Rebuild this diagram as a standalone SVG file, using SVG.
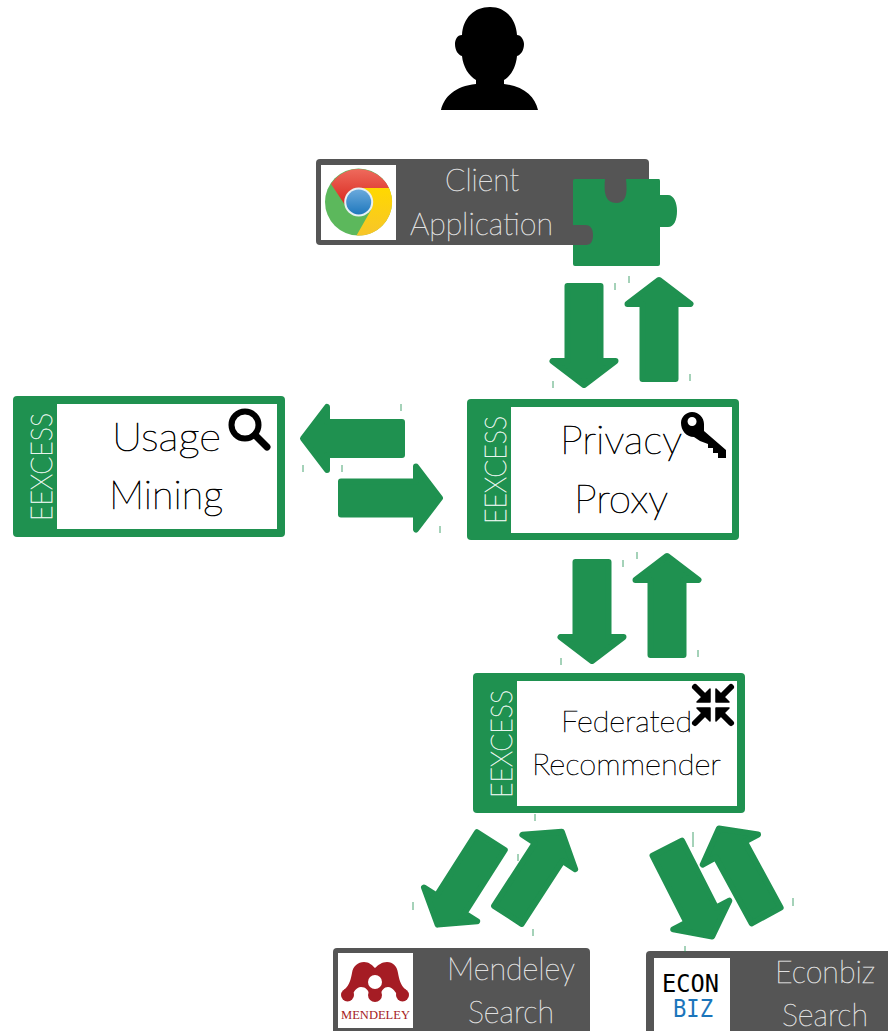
<svg xmlns="http://www.w3.org/2000/svg" width="888" height="1031" viewBox="0 0 888 1031">
<style>
text{font-family:"Lato","Liberation Sans",sans-serif;font-weight:100}
.g{fill:#1f9150}
.dark{fill:#555555}
.w{fill:#ffffff}
.t1{font-size:40px;fill:#000000;stroke:#000000;stroke-width:.7px}
.t2{font-size:30px;fill:#000000;stroke:#000000;stroke-width:.55px}
.t3{font-size:31px;fill:#e0e0e0;stroke:#e0e0e0;stroke-width:.5px}
.ee{font-size:29px;fill:#e8f5ee;stroke:#e8f5ee;stroke-width:.6px}
.arrow{fill:#1f9150;stroke:#1f9150;stroke-width:6;stroke-linejoin:round}
.tick{stroke:#1f9150;stroke-width:1;opacity:.8}
.k{fill:#000000}
.cl{stroke:#000000;stroke-width:6;stroke-linecap:round}
.ch{fill:#000000;stroke:#000000;stroke-width:1.500;stroke-linejoin:round}
.mr{fill:#a51c24}
</style>
<defs>
<path id="arrow" class="arrow" d="M0,4 L31.500,28 L16.500,28 L16.500,103 L-16.500,103 L-16.500,28 L-31.500,28 Z"/>
<linearGradient id="red" x1="0" y1="0" x2="0" y2="1"><stop offset="0" stop-color="#ee6a5c"/><stop offset="1" stop-color="#d9281f"/></linearGradient>
<linearGradient id="blue" x1="0" y1="0" x2="0" y2="1"><stop offset="0" stop-color="#6aa9dc"/><stop offset="1" stop-color="#1f78bd"/></linearGradient>
<linearGradient id="yel" x1="0" y1="0" x2="0" y2="1"><stop offset="0" stop-color="#ffd800"/><stop offset="1" stop-color="#f7c52a"/></linearGradient>
</defs>
<rect width="888" height="1031" fill="#ffffff"/>

<g id="user">
<path class="k" d="M490,7 C474,7 463,18 462,35 C457,35 455,40 455,44 C455,50 458,55 462,56 C463,67 469,76 476,80 L476,84 C455,86 444,97 441,110 L538,110 C535,97 524,86 504,84 L504,80 C511,76 516,67 517,56 C521,55 524,50 524,44 C524,40 521,35 517,35 C516,18 505,7 490,7 Z"/>
</g>

<g id="client-application">
<rect class="dark" x="316" y="159" width="333" height="86" rx="4"/>
<rect class="w" x="321" y="165" width="75" height="75"/>
<circle cx="358.500" cy="202" r="33.500" fill="#5cb85c"/>
<path d="M331,184 A33.500,33.500 0 0 1 389,188 L358.700,188 L345,205 Z" fill="url(#red)"/>
<path d="M389,188 A33.500,33.500 0 0 1 356.500,235.500 L371,210 L358.700,188 Z" fill="url(#yel)"/>
<circle cx="358.700" cy="202" r="14.500" fill="#e8f0f4"/>
<circle cx="358.700" cy="202" r="12.500" fill="url(#blue)"/>
<text class="t3" x="445" y="191" textLength="74" lengthAdjust="spacingAndGlyphs">Client</text>
<text class="t3" x="410" y="235" textLength="143" lengthAdjust="spacingAndGlyphs">Application</text>
<path class="g" d="M575,179 L605,179 C604,190 604,203 616,203 C628,203 627,190 626,179 L659,179 Q660,179 660,181 L660,195 L668,195 C674,195 677,203 677,211 C677,220 674,227 668,227 L660,227 L660,264 Q660,266 658,266 L575,266 Q573,266 573,264 L573,245 L586,245 C591,245 593,241 593,235 C593,228 590,225 585,225 L573,225 L573,181 Q573,179 575,179 Z"/>
</g>

<g id="usage-mining">
<rect class="g" x="13" y="396" width="272" height="141" rx="4"/>
<rect class="w" x="57" y="404" width="220" height="125"/>
<text class="ee" transform="translate(52,521) rotate(-90)" textLength="108" lengthAdjust="spacingAndGlyphs">EEXCESS</text>
<text class="t1" x="112" y="451" textLength="109" lengthAdjust="spacingAndGlyphs">Usage</text>
<text class="t1" x="109" y="509" textLength="114" lengthAdjust="spacingAndGlyphs">Mining</text>
<circle cx="245" cy="425" r="13.500" fill="none" stroke="#000000" stroke-width="6"/>
<line x1="255" y1="435" x2="267" y2="447" stroke="#000000" stroke-width="7" stroke-linecap="round"/>
</g>

<g id="privacy-proxy">
<rect class="g" x="467" y="399" width="272" height="141" rx="4"/>
<rect class="w" x="511" y="407" width="221" height="126"/>
<text class="ee" transform="translate(506,524) rotate(-90)" textLength="108" lengthAdjust="spacingAndGlyphs">EEXCESS</text>
<text class="t1" x="560" y="454" textLength="122" lengthAdjust="spacingAndGlyphs">Privacy</text>
<text class="t1" x="574" y="513" textLength="94" lengthAdjust="spacingAndGlyphs">Proxy</text>
<path class="k" fill-rule="evenodd" d="M692,412 C699,412 704,418 704,424 L704,431 L726,450 L726,458 L718,458 L718,453 L713,453 L713,448 L708,448 L708,444 L700,441 L694,437 C686,437 681,430 681,423 C681,417 686,412 692,412 Z M692,417 A4.500,4.500 0 1 0 692.100,426 A4.500,4.500 0 1 0 692,417 Z"/>
</g>

<g id="federated-recommender">
<rect class="g" x="473" y="673" width="272" height="140" rx="4"/>
<rect class="w" x="517" y="681" width="220" height="125"/>
<text class="ee" transform="translate(512,798) rotate(-90)" textLength="108" lengthAdjust="spacingAndGlyphs">EEXCESS</text>
<text class="t2" x="561" y="732" textLength="131" lengthAdjust="spacingAndGlyphs">Federated</text>
<text class="t2" x="532" y="775" textLength="189" lengthAdjust="spacingAndGlyphs">Recommender</text>
<g id="compress-icon" transform="translate(713,705)">
<g><line class="cl" x1="-18" y1="-18" x2="-8" y2="-8"/><path class="ch" d="M-3,-16 L-3,-3 L-16,-3 Z"/></g>
<g transform="rotate(90)"><line class="cl" x1="-18" y1="-18" x2="-8" y2="-8"/><path class="ch" d="M-3,-16 L-3,-3 L-16,-3 Z"/></g>
<g transform="rotate(180)"><line class="cl" x1="-18" y1="-18" x2="-8" y2="-8"/><path class="ch" d="M-3,-16 L-3,-3 L-16,-3 Z"/></g>
<g transform="rotate(270)"><line class="cl" x1="-18" y1="-18" x2="-8" y2="-8"/><path class="ch" d="M-3,-16 L-3,-3 L-16,-3 Z"/></g>
</g>
</g>

<g id="mendeley-search">
<rect class="dark" x="333" y="948" width="257" height="90" rx="4"/>
<rect class="w" x="338" y="953" width="75" height="75"/>
<path class="mr" d="M344,990 C350,985 351,978 352,973 C353,966 358,962 364,962 C369,962 372,965 375,968 C378,965 382,962 387,962 C393,962 397,966 398,973 C399,978 400,985 406,990 L400,998 C395,992 393,987 388,987 C384,987 382,990 380,995 L370,995 C368,990 366,987 361,987 C356,987 354,992 350,998 Z"/>
<circle class="mr" cx="347.500" cy="995" r="6.500"/>
<circle class="mr" cx="375" cy="995" r="7"/>
<circle class="mr" cx="402.500" cy="995" r="6.500"/>
<circle cx="375" cy="982" r="7" fill="#ffffff"/>
<text x="341" y="1019" font-size="13.500" textLength="69" lengthAdjust="spacingAndGlyphs" fill="#a51c24" style="font-family:'Liberation Serif',serif;font-weight:400">MENDELEY</text>
<text class="t3" x="447" y="980" textLength="128" lengthAdjust="spacingAndGlyphs">Mendeley</text>
<text class="t3" x="468" y="1023" textLength="86" lengthAdjust="spacingAndGlyphs">Search</text>
</g>

<g id="econbiz-search">
<rect class="dark" x="646" y="951" width="250" height="90" rx="4"/>
<rect class="w" x="654" y="958" width="76" height="80"/>
<text x="662" y="992" font-size="25" textLength="57" lengthAdjust="spacingAndGlyphs" fill="#000000" style="font-family:'DejaVu Sans Mono',monospace;font-weight:400">ECON</text>
<text x="673" y="1017" font-size="25" textLength="40" lengthAdjust="spacingAndGlyphs" fill="#1b75bb" style="font-family:'DejaVu Sans Mono',monospace;font-weight:400">BIZ</text>
<text class="t3" x="775" y="983" textLength="100" lengthAdjust="spacingAndGlyphs">Econbiz</text>
<text class="t3" x="782" y="1026" textLength="86" lengthAdjust="spacingAndGlyphs">Search</text>
</g>

<g id="connectors">
<use href="#arrow" transform="translate(659,276)"/>
<use href="#arrow" transform="translate(584,389) rotate(180)"/>
<use href="#arrow" transform="translate(299,438.500) rotate(-90)"/>
<use href="#arrow" transform="translate(444,498) rotate(90)"/>
<use href="#arrow" transform="translate(667,552)"/>
<use href="#arrow" transform="translate(592,665) rotate(180)"/>
<use href="#arrow" transform="translate(564,828.500) rotate(33)"/>
<use href="#arrow" transform="translate(435.500,928) rotate(212.500)"/>
<use href="#arrow" transform="translate(714,940) rotate(153)"/>
<use href="#arrow" transform="translate(717,825) rotate(-28.500)"/>
<g class="tick">
<line x1="615" y1="283" x2="615" y2="290"/><line x1="629" y1="276" x2="629" y2="283"/>
<line x1="553" y1="381" x2="553" y2="388"/><line x1="690" y1="374" x2="690" y2="381"/>
<line x1="401" y1="404" x2="401" y2="411"/><line x1="303" y1="465" x2="303" y2="472"/>
<line x1="342" y1="465" x2="342" y2="472"/><line x1="440" y1="526" x2="440" y2="533"/>
<line x1="623" y1="560" x2="623" y2="567"/><line x1="637" y1="552" x2="637" y2="559"/>
<line x1="561" y1="658" x2="561" y2="665"/><line x1="698" y1="650" x2="698" y2="657"/>
<line x1="535" y1="814" x2="535" y2="821"/><line x1="518" y1="854" x2="518" y2="861"/>
<line x1="533" y1="929" x2="533" y2="936"/><line x1="693" y1="832" x2="693" y2="847"/>
<line x1="793" y1="898" x2="793" y2="906"/><line x1="685" y1="946" x2="685" y2="952"/>
<line x1="413" y1="902" x2="413" y2="910"/>
</g>
</g>
</svg>
